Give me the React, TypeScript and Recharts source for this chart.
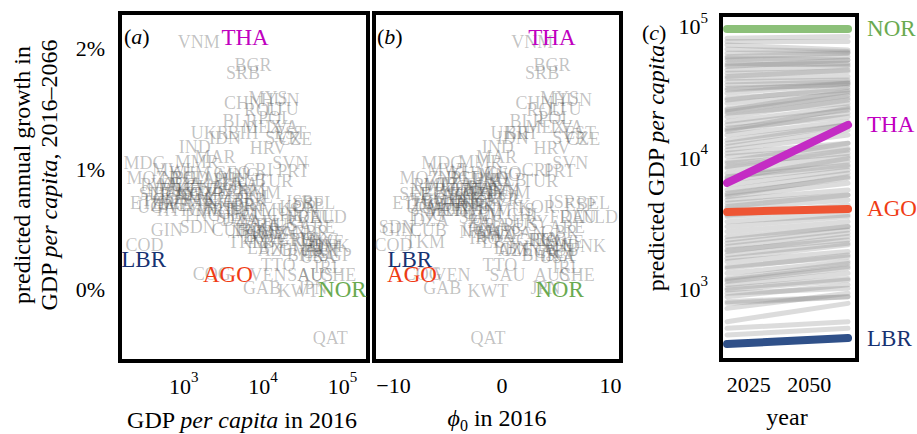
import React from 'react'
import {
  ScatterChart,
  Scatter,
  LineChart,
  Line,
  XAxis,
  YAxis,
  ReferenceArea,
} from 'recharts'

const FONT = '"Liberation Serif", "Times New Roman", serif'

// grey countries in panels (a) and (b): GDP per capita 2016, predicted growth (%), phi0 in 2016
const codes = [
  'VNM', 'BGR', 'SRB', 'CHN', 'MYS', 'HUN', 'ROU', 'LTU', 'POL', 'BLR',
  'LVA', 'MEX', 'EST', 'UKR', 'BIH', 'IDN', 'SVK', 'CZE', 'IND', 'HRV',
  'MAR', 'MMR', 'MDG', 'SVN', 'CRI', 'PRT', 'GEO', 'MWI', 'MOZ', 'TUR',
  'KHM', 'MNG', 'BGD', 'NPL', 'LAO', 'ALB', 'PHL', 'TZA', 'LKA', 'MLI',
  'RWA', 'GHA', 'BOL', 'NER', 'KEN', 'TJK', 'UZB', 'ARM', 'EGY', 'DOM',
  'BFA', 'SLE', 'ZMB', 'KGZ', 'COL', 'SEN', 'PAK', 'TGO', 'NGA', 'PER',
  'NIC', 'ISR', 'BEL', 'ETH', 'BEN', 'CMR', 'ZWE', 'JOR', 'PRY', 'ESP',
  'KOR', 'UGA', 'HND', 'MUS', 'HTI', 'CIV', 'MRT', 'TUN', 'GTM', 'PNG',
  'ECU', 'CHL', 'SLV', 'DEU', 'NLD', 'FRA', 'DZA', 'ZAF', 'URY', 'BRA',
  'RUS', 'ARE', 'SDN', 'GIN', 'CUB', 'IRN', 'NAM', 'ARG', 'GBR', 'KAZ',
  'PAN', 'BWA', 'IRQ', 'GRC', 'ITA', 'HKG', 'TKM', 'LBY', 'SWE', 'COD',
  'NZL', 'FIN', 'DNK', 'LBN', 'OMN', 'AZE', 'AUT', 'CAN', 'BHR', 'SGP',
  'USA', 'TTO', 'IRL', 'COG', 'VEN', 'SAU', 'AUS', 'CHE', 'GAB', 'JPN',
  'KWT', 'QAT',
]
const gdp2016 = [
  1550, 7470, 5580, 5580, 11560, 16410, 10000, 17400, 14190, 5110,
  17400, 9710, 21970, 2130, 5580, 3300, 17910, 25410, 1380, 11560,
  2470, 1460, 321, 21970, 8650, 23990, 4050, 705, 340, 14190,
  1190, 4830, 1190, 839, 2130, 6460, 3820, 1030, 5110, 769,
  497, 1840, 3820, 574, 1380, 890, 2470, 5920, 4420, 9160,
  665, 430, 1840, 1380, 7920, 944, 1600, 497, 2470, 6840,
  2860, 29390, 49660, 350, 769, 1380, 665, 5110, 6840, 37150,
  27730, 455, 3300, 16410, 705, 1840, 2470, 5920, 4830, 1740,
  6460, 18970, 4050, 45500, 66530, 34040, 5110, 7920, 21970, 9710,
  16410, 48280, 1500, 609, 3820, 6840, 7260, 14190, 39360, 12270,
  21970, 10600, 8650, 25410, 34040, 52720, 6460, 12270, 60950, 321,
  39360, 49660, 70470, 10600, 29390, 14190, 55840, 52720, 34040, 81470,
  49660, 15490, 66530, 2260, 11560, 34040, 45500, 88920, 9710, 41690,
  27730, 70470,
]
const growth = [
  2.05, 1.86, 1.79, 1.55, 1.59, 1.57, 1.49, 1.5, 1.42, 1.4,
  1.35, 1.35, 1.3, 1.3, 1.3, 1.26, 1.26, 1.25, 1.18, 1.17,
  1.1, 1.06, 1.05, 1.05, 0.99, 0.98, 0.97, 0.99, 0.93, 0.9,
  0.97, 0.95, 0.93, 0.93, 0.93, 0.91, 0.91, 0.88, 0.88, 0.87,
  0.87, 0.85, 0.84, 0.83, 0.83, 0.83, 0.83, 0.83, 0.8, 0.8,
  0.79, 0.79, 0.79, 0.79, 0.77, 0.76, 0.74, 0.74, 0.74, 0.74,
  0.73, 0.73, 0.72, 0.72, 0.72, 0.7, 0.7, 0.7, 0.7, 0.7,
  0.69, 0.69, 0.68, 0.66, 0.66, 0.66, 0.66, 0.66, 0.64, 0.62,
  0.62, 0.62, 0.6, 0.6, 0.6, 0.6, 0.58, 0.56, 0.56, 0.54,
  0.54, 0.52, 0.52, 0.5, 0.5, 0.5, 0.48, 0.5, 0.48, 0.47,
  0.47, 0.45, 0.43, 0.41, 0.41, 0.41, 0.4, 0.4, 0.4, 0.37,
  0.37, 0.36, 0.36, 0.35, 0.33, 0.33, 0.33, 0.31, 0.29, 0.29,
  0.27, 0.21, 0.19, 0.13, 0.12, 0.12, 0.12, 0.12, 0.02, 0.02,
  -0.01, -0.4,
]
const phi0 = [
  2.8, 4.6, 3.7, 3.0, 5.3, 6.5, 4.0, 5.8, 4.9, 2.3,
  6.0, 4.0, 7.2, 0.7, 1.7, 1.0, 6.3, 7.5, -0.4, 4.6,
  -0.5, -2.0, -5.5, 6.3, 3.2, 5.3, 0.1, -5.1, -7.6, 3.5,
  -2.9, -0.2, -3.4, -4.3, -1.1, 0.6, -1.1, -4.3, -0.6, -5.7,
  -6.4, -2.5, -1.6, -6.8, -3.9, -3.7, -2.0, -0.2, -1.3, 0.7,
  -6.0, -8.0, -2.9, -3.1, 0.3, -4.8, -3.4, -6.8, -2.2, 0.1,
  -2.8, 5.5, 8.4, -8.5, -5.7, -5.0, -6.6, -2.9, -1.1, 7.2,
  3.2, -7.1, -2.9, 1.2, -5.3, -4.1, -5.3, -2.2, -1.8, -6.9,
  -1.6, 2.1, -2.5, 7.0, 9.0, 6.0, -6.6, -1.6, 2.6, -1.1,
  1.7, 6.0, -9.7, -9.6, -6.8, -2.3, -2.0, 0.3, 5.3, -0.6,
  2.4, -0.6, -1.6, 3.0, 4.0, 4.2, -7.1, -0.2, 5.8, -10.0,
  4.9, 5.2, 7.8, 0.9, 1.7, 1.2, 5.3, 4.7, 3.5, 5.5,
  5.1, -0.2, 6.0, -7.3, -4.6, 0.5, 4.6, 6.9, -5.5, 4.0,
  -1.3, -1.3,
]

// highlighted countries
const hlCodes = ['THA', 'AGO', 'LBR', 'NOR']
const hlGdp = [5920, 3600, 312, 100000]
const hlGrowth = [2.09, 0.13, 0.25, 0.0]
const hlPhi = [4.6, -8.3, -8.5, 5.3]
const hlText = ['#c000c0', '#f03c14', '#173272', '#6aaa50']
const hlLine = ['#c42cc4', '#ee5534', '#2f5089', '#8cc079']

// panel (c): predicted GDP per capita in 2016 and 2066
const years = [2016, 2066]
const thaPath = [6180, 17060]
const agoPath = [3720, 3920]
const lbrPath = [369, 409]
const norPath = [91600, 91600]
const grayStart = [
  77800, 73400, 69200, 64200, 59800, 54800, 53200, 50200, 47400, 44700,
  42200, 38600, 36400, 34400, 32400, 29700, 27200, 24900, 22800, 22200,
  20900, 19700, 18100, 17100, 16100, 15200, 14300, 13100, 11700, 11000,
  10400, 9800, 8720, 7990, 7320, 6900, 6510, 5970, 5470, 5160,
  4860, 4590, 4330, 3970, 3430, 3140, 2880, 2640, 2420, 2150,
  2030, 1910, 1750, 1650, 1560, 1430, 1270, 1160, 1100, 1040,
  949, 895, 774, 751, 688, 545, 485, 432, 56400, 48800,
  39800, 31500, 26400, 21500, 15600, 12400, 9000, 8230, 6710, 5010,
  4100, 3530, 2280, 1860, 1390, 1130, 977, 844,
]
const grayEnd = [
  80100, 73400, 63400, 61600, 60500, 53200, 56400, 48800, 53200, 47400,
  43400, 39800, 37500, 36400, 34400, 35400, 31500, 29700, 27200, 30600,
  24900, 26400, 23500, 22200, 19700, 20900, 18100, 17100, 15600, 14300,
  12400, 11300, 10400, 9800, 8980, 8470, 8230, 7760, 7320, 6710,
  6140, 5470, 5010, 4590, 3850, 3530, 3430, 3140, 2880, 2710,
  2560, 2280, 2150, 2090, 1860, 1700, 1560, 1510, 1390, 1270,
  1130, 977, 844, 844, 895, 751, 545, 485, 59800, 50200,
  44700, 35400, 33000, 28500, 22800, 17100, 12400, 11000, 9500, 6900,
  5000, 4200, 2880, 2420, 1750, 1430, 1160, 1040,
]

const countries = codes.map((code, i) => ({
  code,
  gdp: gdp2016[i],
  growth: growth[i],
  phi: phi0[i],
}))
const highlights = hlCodes.map((code, i) => ({
  code,
  gdp: hlGdp[i],
  growth: hlGrowth[i],
  phi: hlPhi[i],
  color: hlText[i],
}))
const toPath = (vals: number[]) => years.map((year, i) => ({ year, v: vals[i] }))
const grayLines = grayStart.map((s, i) => toPath([s, grayEnd[i]]))

// axis limits
const gdpDomain = [157, 210400]
const growthDomain = [-0.587, 2.29]
const phiDomain = [-11.8, 10.97]
const yearDomain = [2013.5, 2069.7]
const predDomain = [278.6, 116900]

// label drawn instead of a marker
function GreyLabel(props: any) {
  return (
    <text
      x={props.cx}
      y={props.cy}
      textAnchor="middle"
      dominantBaseline="central"
      fontFamily={FONT}
      fontSize={18}
      fill="#444"
      fillOpacity={0.33}
    >
      {props.payload.code}
    </text>
  )
}

function ColorLabel(props: any) {
  return (
    <text
      x={props.cx}
      y={props.cy}
      textAnchor="middle"
      dominantBaseline="central"
      fontFamily={FONT}
      fontSize={23}
      fill={props.payload.color}
    >
      {props.payload.code}
    </text>
  )
}

function PowTickX(props: any) {
  const { x, y, payload } = props
  const exp = Math.round(Math.log10(payload.value))
  return (
    <text x={x} y={y + 23} textAnchor="middle" dominantBaseline="central" fontFamily={FONT} fontSize={22} fill="#000">
      10<tspan dy={-9} fontSize={15}>{exp}</tspan>
    </text>
  )
}

function PowTickY(props: any) {
  const { x, y, payload } = props
  const exp = Math.round(Math.log10(payload.value))
  return (
    <text x={x - 11} y={y + 3} textAnchor="end" dominantBaseline="central" fontFamily={FONT} fontSize={22} fill="#000">
      10<tspan dy={-9} fontSize={15}>{exp}</tspan>
    </text>
  )
}

function PctTick(props: any) {
  const { x, y, payload } = props
  return (
    <text x={x - 13} y={y} textAnchor="end" dominantBaseline="central" fontFamily={FONT} fontSize={22} fill="#000">
      {payload.value}%
    </text>
  )
}

function NumTick(props: any) {
  const { x, y, payload } = props
  const v = payload.value
  return (
    <text x={x} y={y + 22} textAnchor="middle" dominantBaseline="central" fontFamily={FONT} fontSize={22} fill="#000">
      {v < 0 ? `\u2212${-v}` : v}
    </text>
  )
}

function endLabel(text: string, color: string) {
  return (p: any) =>
    p.index === 1 ? (
      <text x={p.x + 19} y={p.y} dominantBaseline="central" fontFamily={FONT} fontSize={23} fill={color}>
        {text}
      </text>
    ) : (
      <g />
    )
}

const abs = (left: number, top: number): React.CSSProperties => ({
  position: 'absolute',
  left,
  top,
  fontFamily: FONT,
  whiteSpace: 'nowrap',
  lineHeight: 1,
  color: '#000',
})

export default function App() {
  return (
    <div style={{ position: 'absolute', left: 0, top: 0, width: 917, height: 434, background: '#fff', overflow: 'hidden' }}>
      {/* panel (a) */}
      <div style={{ position: 'absolute', left: 0, top: 0 }}>
        <ScatterChart width={370} height={434} margin={{ top: 13, right: 2, bottom: 33, left: 0 }}>
          <XAxis
            type="number"
            dataKey="gdp"
            scale="log"
            domain={gdpDomain}
            ticks={[1000, 10000, 100000]}
            allowDataOverflow
            axisLine={false}
            tickLine={false}
            tickSize={0}
            height={40}
            tick={PowTickX}
          />
          <YAxis
            type="number"
            dataKey="growth"
            domain={growthDomain}
            ticks={[0, 1, 2]}
            allowDataOverflow
            axisLine={false}
            tickLine={false}
            tickSize={0}
            width={120}
            tick={PctTick}
          />
          <Scatter data={countries} shape={GreyLabel} isAnimationActive={false} />
          <Scatter data={highlights} shape={ColorLabel} isAnimationActive={false} />
          <ReferenceArea
            x1={gdpDomain[0]}
            x2={gdpDomain[1]}
            y1={growthDomain[0]}
            y2={growthDomain[1]}
            fill="none"
            fillOpacity={0}
            stroke="#000"
            strokeWidth={4}
            ifOverflow="visible"
          />
        </ScatterChart>
      </div>

      {/* panel (b) */}
      <div style={{ position: 'absolute', left: 372, top: 0 }}>
        <ScatterChart width={252} height={434} margin={{ top: 13, right: 3, bottom: 33, left: 2 }}>
          <XAxis
            type="number"
            dataKey="phi"
            domain={phiDomain}
            ticks={[-10, 0, 10]}
            allowDataOverflow
            axisLine={false}
            tickLine={false}
            tickSize={0}
            height={40}
            tick={NumTick}
          />
          <YAxis type="number" dataKey="growth" domain={growthDomain} allowDataOverflow hide />
          <Scatter data={countries} shape={GreyLabel} isAnimationActive={false} />
          <Scatter data={highlights} shape={ColorLabel} isAnimationActive={false} />
          <ReferenceArea
            x1={phiDomain[0]}
            x2={phiDomain[1]}
            y1={growthDomain[0]}
            y2={growthDomain[1]}
            fill="none"
            fillOpacity={0}
            stroke="#000"
            strokeWidth={4}
            ifOverflow="visible"
          />
        </ScatterChart>
      </div>

      {/* panel (c) */}
      <div style={{ position: 'absolute', left: 640, top: 0 }}>
        <LineChart width={277} height={434} margin={{ top: 15, right: 60, bottom: 34, left: 0 }}>
          <XAxis
            type="number"
            dataKey="year"
            domain={yearDomain}
            ticks={[2025, 2050]}
            allowDataOverflow
            axisLine={false}
            tickLine={false}
            tickSize={0}
            height={40}
            tick={NumTick}
          />
          <YAxis
            type="number"
            scale="log"
            domain={predDomain}
            ticks={[1000, 10000, 100000]}
            allowDataOverflow
            axisLine={false}
            tickLine={false}
            tickSize={0}
            width={81}
            tick={PowTickY}
          />
          {grayLines.map((d, i) => (
            <Line
              key={i}
              data={d}
              dataKey="v"
              stroke="#8a8a8a"
              strokeOpacity={0.3}
              strokeWidth={5}
              strokeLinecap="round"
              dot={false}
              isAnimationActive={false}
            />
          ))}
          <Line data={toPath(norPath)} dataKey="v" stroke={hlLine[3]} strokeWidth={8} strokeLinecap="round" dot={false} isAnimationActive={false} label={endLabel('NOR', hlText[3])} />
          <Line data={toPath(agoPath)} dataKey="v" stroke={hlLine[1]} strokeWidth={8} strokeLinecap="round" dot={false} isAnimationActive={false} label={endLabel('AGO', hlText[1])} />
          <Line data={toPath(thaPath)} dataKey="v" stroke={hlLine[0]} strokeWidth={8} strokeLinecap="round" dot={false} isAnimationActive={false} label={endLabel('THA', hlText[0])} />
          <Line data={toPath(lbrPath)} dataKey="v" stroke={hlLine[2]} strokeWidth={8} strokeLinecap="round" dot={false} isAnimationActive={false} label={endLabel('LBR', hlText[2])} />
          <ReferenceArea
            x1={yearDomain[0]}
            x2={yearDomain[1]}
            y1={predDomain[0]}
            y2={predDomain[1]}
            fill="none"
            fillOpacity={0}
            stroke="#000"
            strokeWidth={4}
            ifOverflow="visible"
          />
        </LineChart>
      </div>

      {/* panel letters */}
      <div style={{ ...abs(124, 26), fontSize: 22 }}>(<i>a</i>)</div>
      <div style={{ ...abs(377, 26), fontSize: 22 }}>(<i>b</i>)</div>
      <div style={{ ...abs(642, 22), fontSize: 22 }}>(<i>c</i>)</div>

      {/* axis titles */}
      <div style={{ ...abs(22, 175), fontSize: 24, transform: 'translate(-50%, -50%) rotate(-90deg)' }}>
        predicted annual growth in
      </div>
      <div style={{ ...abs(49, 175), fontSize: 24, transform: 'translate(-50%, -50%) rotate(-90deg)' }}>
        GDP <i>per capita</i>, 2016–2066
      </div>
      <div style={{ ...abs(656, 168), fontSize: 24, transform: 'translate(-50%, -50%) rotate(-90deg)' }}>
        predicted GDP <i>per capita</i>
      </div>
      <div style={{ ...abs(242, 420), fontSize: 24, transform: 'translate(-50%, -50%)' }}>
        GDP <i>per capita</i> in 2016
      </div>
      <div style={{ ...abs(497, 420), fontSize: 24, transform: 'translate(-50%, -50%)' }}>
        <i>ϕ</i>
        <sub style={{ fontSize: 16 }}>0</sub> in 2016
      </div>
      <div style={{ ...abs(787, 417), fontSize: 24, transform: 'translate(-50%, -50%)' }}>year</div>
    </div>
  )
}
